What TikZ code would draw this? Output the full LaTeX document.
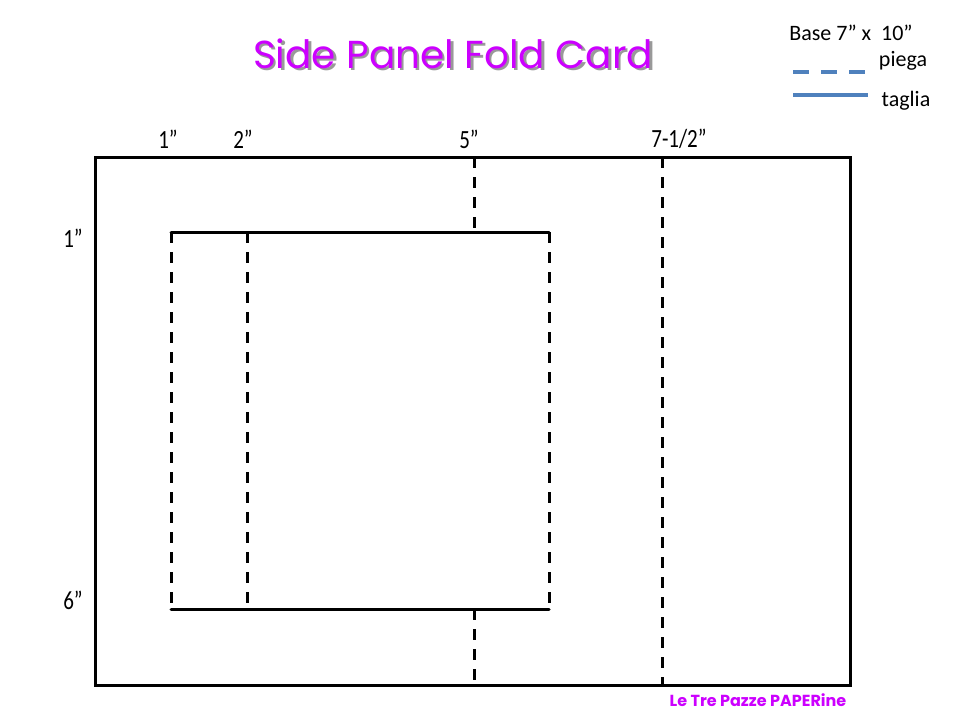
\documentclass[tikz,border=0pt]{standalone}
\usepackage{fontspec}
\setmainfont{Carlito}
\newfontfamily\titlefont{Poppins}
\definecolor{titlemag}{HTML}{CC00FF}
\definecolor{legblue}{HTML}{4F81BD}
\newcommand{\shadowtext}[1]{\rlap{\hspace{2.5pt}\raisebox{-2.5pt}{\color{black!40}#1}}#1}
\begin{document}
\begin{tikzpicture}[x=1pt,y=-1pt,
  cut/.style={line width=3pt,line cap=round},
  fold/.style={line width=3pt,dash pattern=on 11pt off 9pt},
  lab/.style={font=\fontsize{21}{21}\selectfont,yscale=1.25,inner sep=0pt},
  leg/.style={font=\fontsize{22}{22}\selectfont,inner sep=0pt}]
\useasboundingbox (0,0) rectangle (960,720);
% title
\node[font=\titlefont\fontsize{39}{39}\selectfont,text=titlemag,inner sep=0pt] (title) at (453,55) {\shadowtext{Side Panel Fold Card}};
% legend
\node[leg] (base) at (851,33) {Base 7” x\ \ 10”};
\coordinate (fa) at (793,72); \coordinate (fb) at (865,72);
\coordinate (ca) at (793,95); \coordinate (cb) at (868,95);
\draw[legblue,line width=4pt,dash pattern=on 16pt off 12pt] (fa) -- (fb);
\draw[legblue,line width=4pt] (ca) -- (cb);
\node[leg] (piega) at (903,61) {piega};
\node[leg] (taglia) at (906,101) {taglia};
% outer card
\draw[cut] (95,157) rectangle (850,685);
% inner cut lines
\draw[cut] (171,232) -- (549,232);
\draw[cut] (171,609) -- (549,609);
% folds
\draw[fold] (171,232) -- (171,609);
\draw[fold] (247,232) -- (247,609);
\draw[fold] (549,232) -- (549,609);
\draw[fold] (474,157) -- (474,232);
\draw[fold] (474,609) -- (474,685);
\draw[fold] (662,157) -- (662,685);
% dimension labels
\node[lab] (d1) at (168,139) {1”};
\node[lab] (d2) at (243,139) {2”};
\node[lab] (d5) at (469,139) {5”};
\node[lab] (d75) at (679,139) {7-1/2”};
\node[lab] (h1) at (73,238) {1”};
\node[lab] (h6) at (73,600) {6”};
% credit
\node[font=\titlefont\bfseries\fontsize{16}{16}\selectfont,text=titlemag,inner sep=0pt] (credit) at (758,700) {Le Tre Pazze PAPERine};
\end{tikzpicture}
\end{document}
